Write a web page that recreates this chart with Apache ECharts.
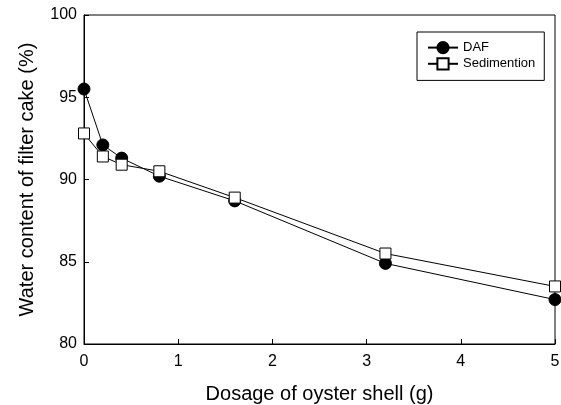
<!DOCTYPE html>
<html><head><meta charset="utf-8">
<script src="https://cdn.jsdelivr.net/npm/echarts@6/dist/echarts.min.js"></script>
<style>html,body{margin:0;padding:0;background:#fff}#c{width:561px;height:405px}</style>
</head><body><div id="c"></div>
<script>
const dosage = [0, 0.2, 0.4, 0.8, 1.6, 3.2, 5];
const dafValues = [95.5, 92.1, 91.3, 90.2, 88.7, 84.9, 82.7];
const sedValues = [92.8, 91.4, 90.9, 90.5, 88.9, 85.5, 83.5];
const seriesNames = ['DAF', 'Sedimention'];
const xTitle = 'Dosage of oyster shell (g)';
const yTitle = 'Water content of filter cake (%)';

const chart = echarts.init(document.getElementById('c'));
const font = 'Liberation Sans, Arial, sans-serif';
chart.setOption({
  animation: false,
  backgroundColor: '#fff',
  grid: {left: 84, right: 6, top: 15, bottom: 61, containLabel: false, outerBoundsMode: 'none',
    show: true, borderColor: '#000', borderWidth: 1, backgroundColor: 'transparent'},
  legend: {
    left: 417, top: 32, orient: 'vertical', itemGap: 3, itemWidth: 30, itemHeight: 14,
    padding: [9, 9, 10, 10],
    borderColor: '#000', borderWidth: 1, backgroundColor: '#fff',
    textStyle: {fontFamily: font, fontSize: 13, color: '#000'},
    data: seriesNames
  },
  xAxis: {
    type: 'value', min: 0, max: 5, interval: 1,
    name: xTitle, nameLocation: 'middle', nameGap: 40,
    nameTextStyle: {fontFamily: font, fontSize: 20, color: '#000'},
    axisLine: {lineStyle: {color: '#000', width: 1}},
    axisTick: {inside: true, length: 5, lineStyle: {color: '#000'}},
    axisLabel: {fontFamily: font, fontSize: 16, color: '#000', margin: 10},
    splitLine: {show: false}
  },
  yAxis: {
    type: 'value', min: 80, max: 100, interval: 5,
    name: yTitle, nameLocation: 'middle', nameGap: 47,
    nameTextStyle: {fontFamily: font, fontSize: 20, color: '#000'},
    axisLine: {lineStyle: {color: '#000', width: 1}},
    axisTick: {inside: true, length: 5, lineStyle: {color: '#000'}},
    axisLabel: {fontFamily: font, fontSize: 16, color: '#000', margin: 7},
    splitLine: {show: false}
  },
  series: [
    {
      name: seriesNames[0], type: 'line',
      data: dosage.map((x, i) => [x, dafValues[i]]),
      symbol: 'circle', symbolSize: 12,
      lineStyle: {color: '#000', width: 1},
      itemStyle: {color: '#000', borderColor: '#000', borderWidth: 1},
      z: 2
    },
    {
      name: seriesNames[1], type: 'line',
      data: dosage.map((x, i) => [x, sedValues[i]]),
      symbol: 'rect', symbolSize: 11,
      lineStyle: {color: '#000', width: 1},
      itemStyle: {color: '#fff', borderColor: '#000', borderWidth: 1},
      z: 3
    }
  ]
});
</script></body></html>
